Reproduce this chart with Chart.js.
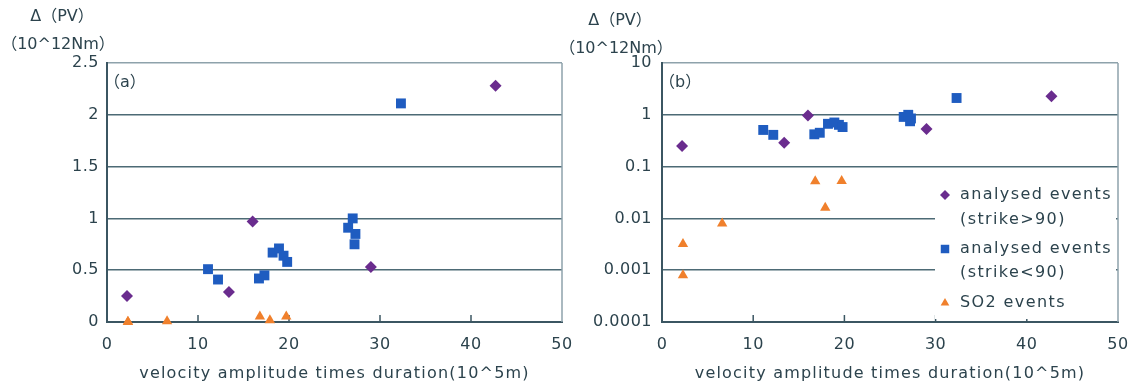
<!DOCTYPE html>
<html>
<head>
<meta charset="utf-8">
<title>PV vs velocity amplitude</title>
<script src="https://cdn.jsdelivr.net/npm/chart.js"></script>
<style>
  body { margin: 0; background: #fff; }
  #wrap { position: relative; width: 1136px; height: 387px; overflow: hidden; }
  canvas { position: absolute; top: 0; }
  #chartA { left: 0; }
  #chartB { left: 560px; }
</style>
</head>
<body>
<div id="wrap">
  <canvas id="chartA" width="575" height="387"></canvas>
  <canvas id="chartB" width="576" height="387"></canvas>
</div>
<script>
// ---- data ----
const strikeOverX = [2.2, 13.4, 16.0, 29.0, 42.7];
const strikeOverY = [0.25, 0.29, 0.97, 0.53, 2.28];

const strikeUnderX = [11.1, 12.2, 16.7, 17.3, 18.2, 18.9, 19.4, 19.8, 26.5, 27.0, 27.3, 27.2, 32.3];
const strikeUnderY = [0.51, 0.41, 0.42, 0.45, 0.67, 0.71, 0.64, 0.58, 0.91, 1.0, 0.85, 0.75, 2.11];

const so2X = [2.3, 2.3, 6.6, 16.8, 17.9, 19.7];
const so2Y = [0.0032, 0.0008, 0.008, 0.052, 0.016, 0.053];

const xTicks = [0, 10, 20, 30, 40, 50];
const yLinTicks = [0, 0.5, 1, 1.5, 2, 2.5];
const yLogTicks = [0.0001, 0.001, 0.01, 0.1, 1, 10];

const seriesNames = [
  ["analysed events", "(strike>90)"],
  ["analysed events", "(strike<90)"],
  ["SO2 events"]
];
const yTitle = ["Δ（PV）", "（10^12Nm）"];
const xTitle = "velocity amplitude times duration(10^5m)";

// ---- styling ----
const FONT = "'DejaVu Sans', 'Noto Sans CJK JP', sans-serif";
const textCol = "#2c434d";
const gridCol = "#4d6a75";
const axisCol = "#3b5662";
const lightCol = "#8ea2ab";

function pts(xs, ys) {
  return xs.map((x, i) => ({ x: x, y: ys[i] }));
}

function makeDatasets() {
  return [
    { label: seriesNames[0].join(" "), data: pts(strikeOverX, strikeOverY),
      pointStyle: "rectRot", pointRadius: 6, backgroundColor: "#6a2c8e", borderColor: "#6a2c8e", borderWidth: 0, clip: false },
    { label: seriesNames[1].join(" "), data: pts(strikeUnderX, strikeUnderY),
      pointStyle: "rect", pointRadius: 7, backgroundColor: "#1f5cc0", borderColor: "#1f5cc0", borderWidth: 0, clip: false },
    { label: seriesNames[2], data: pts(so2X, so2Y),
      pointStyle: "triangle", pointRadius: 6, backgroundColor: "#f0802c", borderColor: "#f0802c", borderWidth: 0, clip: false }
  ];
}

// titles, panel tag, frame, inward ticks, legend
const deco = {
  id: "deco",
  beforeDraw(chart) {
    chart.ctx.letterSpacing = "0.5px";
  },
  beforeDatasetsDraw(chart, args, o) {
    const ctx = chart.ctx;
    const a = chart.chartArea;
    const xs = chart.scales.x;
    ctx.save();
    ctx.strokeStyle = lightCol;
    ctx.lineWidth = 1.5;
    ctx.beginPath();
    ctx.moveTo(a.right, a.top);
    ctx.lineTo(a.right, a.bottom);
    ctx.stroke();
    ctx.strokeStyle = axisCol;
    ctx.lineWidth = 1.5;
    xTicks.slice(1, -1).forEach(v => {
      const px = xs.getPixelForValue(v);
      ctx.beginPath();
      ctx.moveTo(px, a.bottom);
      ctx.lineTo(px, a.bottom - 7);
      ctx.stroke();
    });
    ctx.restore();
  },
  afterDraw(chart, args, o) {
    const ctx = chart.ctx;
    const a = chart.chartArea;
    ctx.save();
    ctx.fillStyle = textCol;
    ctx.font = "16px " + FONT;
    ctx.textAlign = "center";
    ctx.textBaseline = "middle";
    ctx.letterSpacing = "0px";
    ctx.fillText(yTitle[0], a.left + o.titleDx + 4, o.titleY[0]);
    ctx.fillText(yTitle[1], a.left + o.titleDx, o.titleY[1]);

    ctx.letterSpacing = "1.2px";
    ctx.fillText(xTitle, (a.left + a.right) / 2, 374);

    ctx.letterSpacing = "0px";
    ctx.textAlign = "left";
    ctx.fillText(o.tag, a.left - 3, 83);

    if (o.legend) {
      const L = o.legend;
      ctx.fillStyle = "#fff";
      ctx.fillRect(L.x, L.y, a.right - 2 - L.x, a.bottom - 3 - L.y);
      const ds = chart.data.datasets;
      let row = 0;
      ctx.letterSpacing = "1.4px";
      seriesNames.forEach((lines, i) => {
        const y0 = L.rows[row];
        const d = ds[i];
        ctx.fillStyle = d.backgroundColor;
        const st = { pointStyle: d.pointStyle, radius: d.pointRadius - 1, rotation: 0, borderWidth: 0 };
        if (Chart.helpers && Chart.helpers.drawPoint) {
          ctx.strokeStyle = d.borderColor;
          Chart.helpers.drawPoint(ctx, st, L.markerX, y0);
        }
        ctx.fillStyle = textCol;
        lines.forEach(t => {
          ctx.fillText(t, L.textX, L.rows[row]);
          row++;
        });
      });
    }
    ctx.restore();
  }
};

function makeChart(id, o) {
  const logY = o.type === "logarithmic";
  return new Chart(document.getElementById(id), {
    type: "scatter",
    data: { datasets: makeDatasets() },
    plugins: [deco],
    options: {
      responsive: false,
      animation: false,
      events: [],
      layout: { padding: { left: 0, top: 63, right: o.padRight, bottom: 0 } },
      plugins: {
        legend: { display: false },
        tooltip: { enabled: false },
        deco: o.deco
      },
      scales: {
        x: {
          type: "linear", min: 0, max: 50,
          afterBuildTicks: s => { s.ticks = xTicks.map(v => ({ value: v })); },
          afterFit: s => { s.height = 65; s.paddingLeft = 0; s.paddingRight = 0; },
          grid: { display: false },
          border: { display: true, color: axisCol, width: 2 },
          ticks: { color: textCol, font: { family: FONT, size: 16 }, padding: 5, maxRotation: 0 },
          title: { display: false }
        },
        y: {
          type: o.type, min: logY ? 0.0001 : 0, max: logY ? 10 : 2.5,
          afterBuildTicks: s => { s.ticks = o.yTicks.map(v => ({ value: v })); },
          afterFit: s => { s.width = o.yWidth; s.paddingTop = 0; s.paddingBottom = 0; },
          grid: {
            drawTicks: false,
            lineWidth: 1.5,
            color: c => {
              const v = c.tick ? c.tick.value : null;
              if (v === o.yTicks[0]) return "rgba(0,0,0,0)";
              if (v === o.yTicks[o.yTicks.length - 1]) return lightCol;
              return gridCol;
            }
          },
          border: { display: true, color: axisCol, width: 2 },
          ticks: { color: textCol, font: { family: FONT, size: 16 }, padding: o.yPad, callback: v => String(v) }
        }
      }
    }
  });
}

makeChart("chartA", {
  type: "linear", yTicks: yLinTicks, yWidth: 107, yPad: 8, padRight: 13,
  deco: { tag: "（a）", titleDx: -49, titleY: [17, 45] }
});

makeChart("chartB", {
  type: "logarithmic", yTicks: yLogTicks, yWidth: 102, yPad: 10, padRight: 18,
  deco: {
    tag: "（b）", titleDx: -46, titleY: [21, 49],
    legend: { x: 375, y: 172, markerX: 385, textX: 400, rows: [195, 220, 249, 273, 303] }
  }
});
</script>
</body>
</html>
